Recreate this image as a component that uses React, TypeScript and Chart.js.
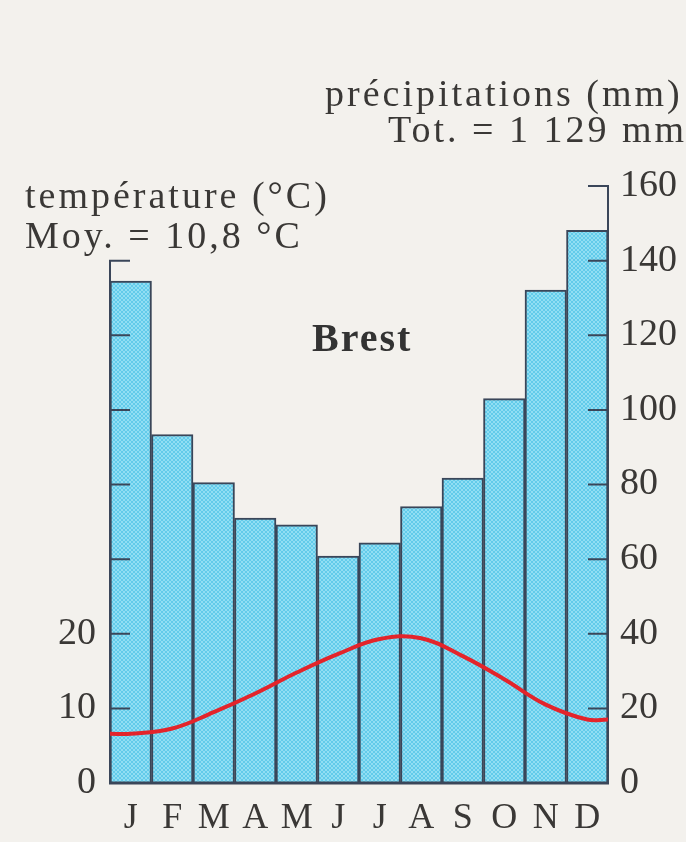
import React, { useEffect, useRef } from 'react';
import { Chart, registerables } from 'chart.js';

Chart.register(...registerables);

// ---- data ----
const months = ['J', 'F', 'M', 'A', 'M', 'J', 'J', 'A', 'S', 'O', 'N', 'D'];
const precipitation = [134.5, 93.4, 80.5, 71, 69.2, 60.8, 64.4, 74.1, 81.7, 103, 132.1, 148.1];
const temperature = [6.6, 7.3, 9.5, 12.0, 14.8, 17.3, 19.3, 19.4, 17.0, 13.9, 10.5, 8.5];
const tempLabelled = [0, 10, 20];
const tempStep = 10;
const tempAxisTop = 70;
const tempScaleMax = 80;
const precipStep = 20;
const precipScaleMax = 160;

const INK = '#3a3836';
const AXIS = '#3a4659';
const FONT = '"Liberation Serif", "Times New Roman", serif';

function makePattern(canvas: HTMLCanvasElement) {
  const tile = document.createElement('canvas');
  tile.width = 4;
  tile.height = 4;
  const t = tile.getContext('2d')!;
  t.fillStyle = 'rgb(98,203,234)';
  t.fillRect(0, 0, 4, 4);
  t.fillStyle = 'rgb(145,222,243)';
  for (let i = 0; i < 4; i++) {
    t.fillRect(i, i, 1, 1);
    t.fillRect(3 - i, i, 1, 1);
  }
  const ctx = canvas.getContext('2d')!;
  return ctx.createPattern(tile, 'repeat') as CanvasPattern;
}

const axisDecor = {
  id: 'axisDecor',
  afterDatasetDraw(chart: any, args: any) {
    if (args.index !== 0) return;
    const { ctx, chartArea } = chart;
    const yl = chart.scales.y;
    const yr = chart.scales.y2;
    const tickLen = 20;
    ctx.save();
    ctx.strokeStyle = AXIS;
    ctx.lineWidth = 2;
    ctx.lineCap = 'butt';
    // left (temperature) axis
    const xl = chartArea.left;
    const yl0 = yl.getPixelForValue(0);
    const ylTop = yl.getPixelForValue(tempAxisTop);
    ctx.beginPath();
    ctx.moveTo(xl, yl0);
    ctx.lineTo(xl, ylTop);
    ctx.lineTo(xl + tickLen, ylTop);
    for (let v = tempStep; v < tempAxisTop; v += tempStep) {
      const p = yl.getPixelForValue(v);
      ctx.moveTo(xl, p);
      ctx.lineTo(xl + tickLen, p);
    }
    ctx.stroke();
    // right (precipitation) axis
    const xr = chartArea.right;
    const yr0 = yr.getPixelForValue(0);
    const yrTop = yr.getPixelForValue(precipScaleMax);
    ctx.beginPath();
    ctx.moveTo(xr, yr0);
    ctx.lineTo(xr, yrTop);
    ctx.lineTo(xr - tickLen, yrTop);
    for (let v = precipStep; v < precipScaleMax; v += precipStep) {
      const p = yr.getPixelForValue(v);
      ctx.moveTo(xr, p);
      ctx.lineTo(xr - tickLen, p);
    }
    ctx.stroke();
    // baseline
    ctx.lineWidth = 3;
    ctx.beginPath();
    ctx.moveTo(chartArea.left - 1, yl0);
    ctx.lineTo(chartArea.right + 1, yl0);
    ctx.stroke();
    ctx.restore();
  },
};

export default function App() {
  const ref = useRef<HTMLCanvasElement>(null);

  useEffect(() => {
    const canvas = ref.current!;
    const pattern = makePattern(canvas);
    const lineData = [
      { x: 0, y: temperature[0] },
      ...temperature.map((t, i) => ({ x: i + 0.5, y: t })),
      { x: months.length, y: temperature[temperature.length - 1] },
    ];
    const chart = new Chart(canvas, {
      type: 'bar',
      data: {
        labels: months,
        datasets: [
          {
            type: 'bar',
            label: 'précipitations',
            data: precipitation,
            yAxisID: 'y2',
            xAxisID: 'x',
            backgroundColor: pattern,
            borderColor: AXIS,
            borderWidth: 2,
            barPercentage: 1,
            categoryPercentage: 1,
            grouped: false,
            order: 1,
          } as any,
          {
            type: 'line',
            label: 'température',
            data: lineData,
            yAxisID: 'y',
            xAxisID: 'xl',
            borderColor: '#e3242b',
            borderWidth: 4,
            pointRadius: 0,
            tension: 0.4,
            fill: false,
            order: 0,
          } as any,
        ],
      },
      options: {
        responsive: false,
        maintainAspectRatio: false,
        animation: false,
        layout: { padding: { top: 186, left: 0, right: 0, bottom: 0 } },
        plugins: { legend: { display: false }, tooltip: { enabled: false } },
        scales: {
          x: {
            type: 'category',
            position: 'bottom',
            offset: true,
            grid: { display: false, drawTicks: false },
            border: { display: false },
            ticks: {
              color: INK,
              font: { family: FONT, size: 36 },
              padding: 14,
              autoSkip: false,
              maxRotation: 0,
            },
            afterFit: (s: any) => {
              s.height = 59;
            },
          },
          xl: {
            type: 'linear',
            display: false,
            offset: false,
            min: 0,
            max: months.length,
            grid: { offset: false },
          },
          y: {
            type: 'linear',
            position: 'left',
            min: 0,
            max: tempScaleMax,
            grid: { display: false, drawTicks: false },
            border: { display: false },
            ticks: {
              stepSize: tempStep,
              color: INK,
              font: { family: FONT, size: 38 },
              padding: 14,
              callback: (v: any) => (tempLabelled.includes(Number(v)) ? String(v) : ''),
            },
            afterFit: (s: any) => {
              s.width = 110;
            },
          },
          y2: {
            type: 'linear',
            position: 'right',
            min: 0,
            max: precipScaleMax,
            grid: { display: false, drawTicks: false },
            border: { display: false },
            ticks: {
              stepSize: precipStep,
              color: INK,
              font: { family: FONT, size: 38 },
              padding: 12,
            },
            afterFit: (s: any) => {
              s.width = 78;
            },
          },
        },
      } as any,
      plugins: [axisDecor],
    });
    return () => chart.destroy();
  }, []);

  const text: React.CSSProperties = {
    position: 'absolute',
    whiteSpace: 'nowrap',
    fontSize: 38,
    lineHeight: '38px',
    letterSpacing: '3px',
  };

  return (
    <div
      style={{
        position: 'fixed',
        left: 0,
        top: 0,
        width: 686,
        height: 842,
        overflow: 'hidden',
        background: '#f3f1ed',
        fontFamily: FONT,
        color: INK,
      }}
    >
      <canvas
        ref={ref}
        width={686}
        height={842}
        style={{ position: 'absolute', left: 0, top: 0, width: 686, height: 842 }}
      />
      <div style={{ ...text, left: 325, top: 74 }}>précipitations (mm)</div>
      <div style={{ ...text, left: 388, top: 110 }}>Tot. = 1 129 mm</div>
      <div style={{ ...text, left: 25, top: 176 }}>température (°C)</div>
      <div style={{ ...text, left: 25, top: 216 }}>Moy. = 10,8 °C</div>
      <div
        style={{
          position: 'absolute',
          whiteSpace: 'nowrap',
          left: 312,
          top: 318,
          fontSize: 40,
          lineHeight: '40px',
          fontWeight: 'bold',
          letterSpacing: '2px',
          color: '#333',
        }}
      >
        Brest
      </div>
    </div>
  );
}
